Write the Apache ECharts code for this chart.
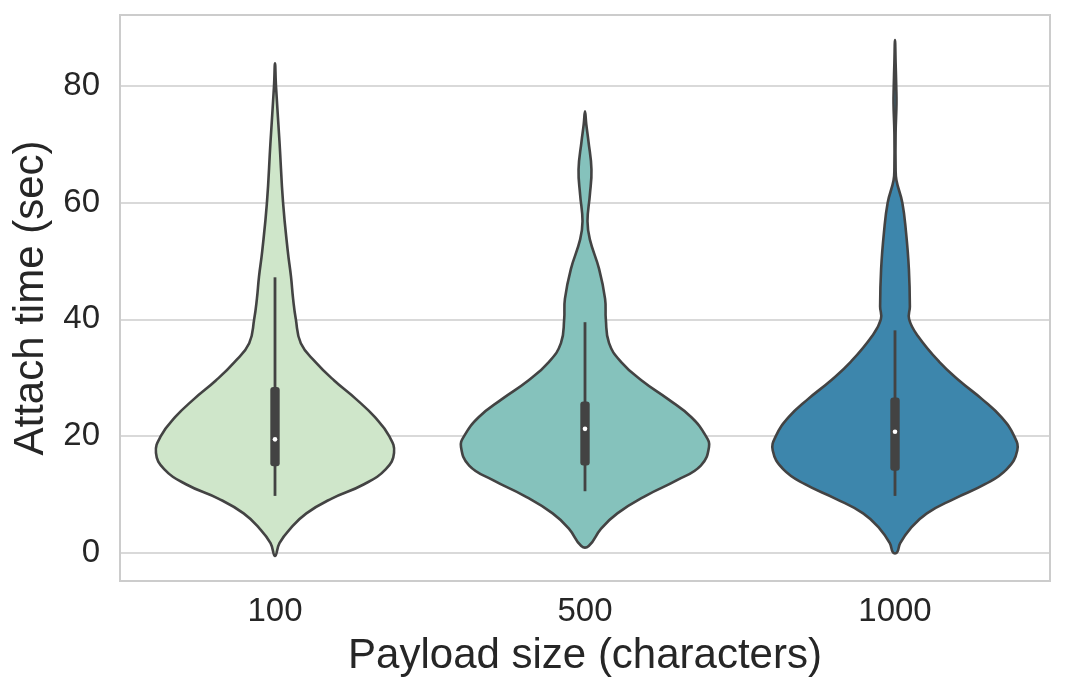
<!DOCTYPE html>
<html>
<head>
<meta charset="utf-8">
<title>Attach time by payload size</title>
<script src="https://cdn.jsdelivr.net/npm/echarts@6/dist/echarts.min.js"></script>
<style>
  html, body { margin: 0; padding: 0; background: #fff; }
  #chart { width: 1066px; height: 696px; }
</style>
</head>
<body>
<div id="chart"></div>
<script>
// categories on the x axis
const categories = ['100', '500', '1000'];
const yTicks = [0, 20, 40, 60, 80];

// violin outlines: [attach time, relative density (widest = 100)]
const density100 = [
  [-0.6, 0], [1.6, 3.6], [4.1, 12.4], [6.7, 25.3], [9.2, 45.3], [11.7, 71.8], [14.3, 89.4],
  [17.1, 96.0], [20, 92.0], [23.2, 80.6], [26.3, 65.4], [29.5, 47.7], [32.7, 32.5],
  [35.9, 20.8], [40, 16.8], [43.5, 14.6], [47.3, 12.9], [51.7, 10.3], [60, 6.5],
  [70.2, 3.7], [80, 0.8], [83.9, 0]
];
const density500 = [
  [1.1, 3.0], [4.1, 13.0], [6.7, 26.1], [9.8, 49.7], [12.4, 74.2], [14.9, 93.4], [18.1, 100],
  [20, 97.4], [23.2, 85.8], [26.3, 67.0], [29.5, 45.7], [32.7, 29.0], [35.9, 19.4],
  [40, 16.8], [43.5, 16.2], [48.6, 11.4], [53.7, 3.9], [56.8, 2.0], [61.3, 3.9],
  [65.7, 5.2], [70.5, 2.8], [73.5, 1.0], [75.7, 0]
];
const density1000 = [
  [0, 1.6], [1.6, 4.2], [4.1, 12.4], [6.7, 25.7], [9.2, 47.7], [11.7, 72.6], [14.3, 90.2],
  [17.5, 98.6], [20, 96.0], [23.2, 85.8], [26.3, 70.2], [29.5, 51.7], [32.7, 35.7],
  [37.1, 18.6], [40, 11.4], [42.2, 12.0], [48.6, 11.2], [54.9, 8.9], [60, 5.9],
  [63.8, 1.2], [66, 0.5], [72, 0.5], [77, 1.2], [80, 1.0], [84, 0.5], [87.9, 0]
];

// inner box: [lower whisker, q1, median, q3, upper whisker]
const box100 = [9.7, 14.8, 19.4, 28.4, 47.2];
const box500 = [10.5, 14.9, 21.2, 25.9, 39.5];
const box1000 = [9.7, 14.0, 20.7, 26.6, 38.1];

const profiles = [density100, density500, density1000];
const boxes = [box100, box500, box1000];
const fills = ['#cfe6ca', '#85c2bc', '#3d86ac'];
const edge = '#434343';
const font = "'Liberation Sans', Arial, sans-serif";

const chart = echarts.init(document.getElementById('chart'));

function renderViolin(params, api) {
  const idx = api.value(0);
  const profile = profiles[idx];
  const box = boxes[idx];
  const center = api.coord([idx, 0])[0];
  const maxHalf = api.size([1, 0])[0] * 0.4; // seaborn width 0.8
  const yOf = v => api.coord([idx, v])[1];

  const pts = [];
  profile.forEach(p => pts.push([center + p[1] / 100 * maxHalf, yOf(p[0])]));
  profile.slice().reverse().forEach(p => {
    if (p[1] > 0) pts.push([center - p[1] / 100 * maxHalf, yOf(p[0])]);
  });

  return {
    type: 'group',
    children: [
      {
        type: 'polygon',
        shape: { points: pts, smooth: 0.45 },
        style: { fill: fills[idx], stroke: edge, lineWidth: 2.6, lineJoin: 'round' }
      },
      {
        type: 'line',
        shape: { x1: center, y1: yOf(box[0]), x2: center, y2: yOf(box[4]) },
        style: { stroke: edge, lineWidth: 2.8 }
      },
      {
        type: 'rect',
        shape: { x: center - 4.7, y: yOf(box[3]), width: 9.4, height: yOf(box[1]) - yOf(box[3]), r: 3 },
        style: { fill: edge }
      },
      {
        type: 'circle',
        shape: { cx: center, cy: yOf(box[2]), r: 2.3 },
        style: { fill: '#ffffff' }
      }
    ]
  };
}

const option = {
  backgroundColor: '#ffffff',
  animation: false,
  grid: {
    left: 120, right: 16, top: 15, bottom: 115,
    show: true, borderColor: '#cccccc', borderWidth: 2, backgroundColor: '#ffffff'
  },
  xAxis: {
    type: 'category',
    data: categories,
    boundaryGap: true,
    name: 'Payload size (characters)',
    nameLocation: 'middle',
    nameGap: 54,
    nameTextStyle: { fontFamily: font, fontSize: 42, color: '#262626' },
    axisLine: { show: false },
    axisTick: { show: false },
    splitLine: { show: false },
    axisLabel: { fontFamily: font, fontSize: 33, color: '#262626', margin: 14 }
  },
  yAxis: {
    type: 'value',
    min: -4.9,
    max: 92.2,
    name: 'Attach time (sec)',
    nameLocation: 'middle',
    nameGap: 66,
    nameTextStyle: { fontFamily: font, fontSize: 42, color: '#262626' },
    axisLine: { show: false },
    axisTick: { show: false, customValues: yTicks },
    axisLabel: { fontFamily: font, fontSize: 33, color: '#262626', margin: 20, customValues: yTicks },
    splitLine: { show: true, lineStyle: { color: '#cccccc', width: 1.6 } }
  },
  series: [
    {
      type: 'custom',
      renderItem: renderViolin,
      encode: { x: 0 },
      data: categories.map((c, i) => [i]),
      silent: true
    }
  ]
};

chart.setOption(option);
</script>
</body>
</html>
